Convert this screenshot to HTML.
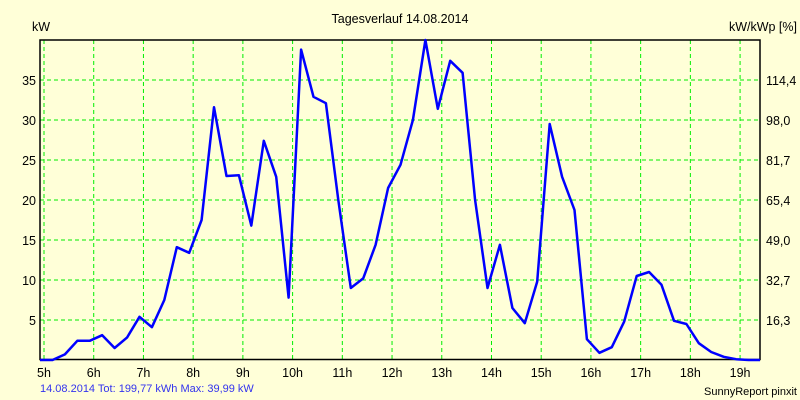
<!DOCTYPE html>
<html><head><meta charset="utf-8"><style>
body{margin:0;background:#ffffd8;}
svg{display:block;font-family:"Liberation Sans",Arial,sans-serif;font-size:12px;}
</style></head><body>
<svg id="chart" width="800" height="400" viewBox="0 0 800 400">
<rect x="0" y="0" width="800" height="400" fill="#ffffd8"/>
<text x="400" y="23" text-anchor="middle" fill="#000" style="font-size:12.5px">Tagesverlauf 14.08.2014</text>
<text x="32" y="31" fill="#000" style="font-size:12.5px">kW</text>
<text x="797" y="31" text-anchor="end" fill="#000" style="font-size:12.5px">kW/kWp [%]</text>
<g id="grid"></g>
<g id="xticks" style="font-size:12.5px"></g>
<g id="yticks" style="font-size:12.5px"></g>
<g id="y2ticks" style="font-size:12.5px"></g>
<rect x="40" y="40" width="720" height="319.5" fill="none" stroke="#000" stroke-width="1.5"/>
<polyline id="series" fill="none" stroke="#0000ff" stroke-width="2.5" stroke-linejoin="round"/>
<text x="40" y="392" fill="#3333ee" style="font-size:11px">14.08.2014 Tot: 199,77 kWh Max: 39,99 kW</text>
<text x="797" y="395" text-anchor="end" fill="#000" style="font-size:11px">SunnyReport pinxit</text>
</svg>
<script>
const hourTicks=[5,6,7,8,9,10,11,12,13,14,15,16,17,18,19];
const kwTicks=[5,10,15,20,25,30,35];
const pctLabels=["16,3","32,7","49,0","65,4","81,7","98,0","114,4"];
const startHour=4.92;
const stepHours=0.25;
const power=[0,0,0.7,2.4,2.4,3.1,1.5,2.8,5.4,4.1,7.5,14.1,13.4,17.5,31.6,23,23.1,16.8,27.4,22.9,7.8,38.8,32.9,32.1,20,9,10.2,14.4,21.5,24.4,30,40,31.4,37.4,35.9,20,9,14.4,6.5,4.6,9.8,29.5,22.9,18.75,2.6,0.9,1.6,4.8,10.5,11,9.4,4.9,4.5,2.1,1,0.4,0.1,0,0];
const NS="http://www.w3.org/2000/svg";
const xs=h=>44+(h-5)*49.72;
const ys=v=>360-v*8;
const grid=document.getElementById('grid'),xt=document.getElementById('xticks'),yt=document.getElementById('yticks'),y2=document.getElementById('y2ticks');
function mk(tag,attrs,parent){const e=document.createElementNS(NS,tag);for(const k in attrs)e.setAttribute(k,attrs[k]);parent.appendChild(e);return e;}
hourTicks.forEach(h=>{
 const l=mk('line',{x1:xs(h),x2:xs(h),y1:40,y2:360,stroke:'#00ee00','stroke-dasharray':'4,3'},grid);
 
 
 const t=mk('text',{x:xs(h),y:377,'text-anchor':'middle',fill:'#000'},xt);
 t.textContent=h+'h';
 
 
});
kwTicks.forEach((v,i)=>{
 const l=mk('line',{x1:40,x2:760,y1:ys(v),y2:ys(v),stroke:'#00ee00','stroke-dasharray':'4,3'},grid);
 
 
 const t=mk('text',{x:36,y:ys(v)+5,'text-anchor':'end',fill:'#000'},yt);
 t.textContent=v;
 
 
 const t2=mk('text',{x:766,y:ys(v)+5,fill:'#000'},y2);
 t2.textContent=pctLabels[i];
 
 
});
const pts=power.map((v,i)=>{let x=xs(startHour+i*stepHours);x=Math.min(760,Math.max(40,x));return x.toFixed(1)+','+ys(v).toFixed(1);});
document.getElementById('series').setAttribute('points',pts.join(' '));
</script>
</body></html>
